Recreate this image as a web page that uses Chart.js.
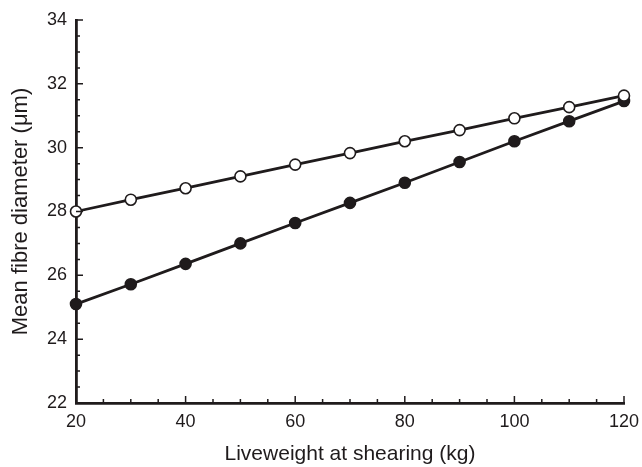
<!DOCTYPE html>
<html>
<head>
<meta charset="utf-8">
<script src="https://cdn.jsdelivr.net/npm/chart.js@4/dist/chart.umd.min.js"></script>
<style>
  html, body { margin: 0; padding: 0; background: #ffffff; }
  #wrap { width: 642px; height: 467px; }
</style>
</head>
<body>
<div id="wrap"><canvas id="c" width="642" height="467"></canvas></div>
<script>
// Data
const liveweight = [20, 30, 40, 50, 60, 70, 80, 90, 100, 110, 120];
const openSeries = [28.0, 28.37, 28.73, 29.1, 29.47, 29.83, 30.2, 30.55, 30.92, 31.27, 31.63];
const filledSeries = [25.1, 25.72, 26.36, 27.0, 27.64, 28.27, 28.9, 29.55, 30.2, 30.83, 31.46];
const xTitle = 'Liveweight at shearing (kg)';
const yTitle = 'Mean fibre diameter (\u03bcm)';
const xRange = [20, 120];
const yRange = [22, 34];

const ink = '#1f1b1c';
const fontFamily = '"Liberation Sans", Arial, Helvetica, sans-serif';

const toXY = (ys) => liveweight.map((x, i) => ({ x: x, y: ys[i] }));

// Inward ticks drawn through the chart's own scales
const inwardTicks = {
  id: 'inwardTicks',
  afterDatasetsDraw(chart) {
    const ctx = chart.ctx;
    const xs = chart.scales.x, ys = chart.scales.y;
    const area = chart.chartArea;
    ctx.save();
    ctx.strokeStyle = ink;
    ctx.lineWidth = 1.5;
    ctx.beginPath();
    for (let v = xRange[0] + 5; v < xRange[1] + 0.01; v += 5) {
      const px = xs.getPixelForValue(v);
      const len = (v % 20 === 0) ? 7 : 4;
      ctx.moveTo(px, area.bottom);
      ctx.lineTo(px, area.bottom - len);
    }
    for (let v = yRange[0] + 0.5; v < yRange[1] + 0.01; v += 0.5) {
      const py = ys.getPixelForValue(v);
      const len = (Math.abs(v % 2) < 0.01) ? 7 : 4;
      ctx.moveTo(area.left, py);
      ctx.lineTo(area.left + len, py);
    }
    ctx.stroke();
    ctx.restore();
  }
};

new Chart(document.getElementById('c'), {
  type: 'line',
  data: {
    datasets: [
      {
        data: toXY(openSeries),
        borderColor: ink,
        borderWidth: 2.8,
        pointRadius: 5.5,
        pointBorderWidth: 1.6,
        pointBackgroundColor: '#ffffff',
        pointBorderColor: ink,
        tension: 0,
        clip: false
      },
      {
        data: toXY(filledSeries),
        borderColor: ink,
        borderWidth: 2.8,
        pointRadius: 5.5,
        pointBorderWidth: 1.6,
        pointBackgroundColor: ink,
        pointBorderColor: ink,
        tension: 0,
        clip: false
      }
    ]
  },
  options: {
    responsive: false,
    animation: false,
    devicePixelRatio: 1,
    layout: { padding: { left: 0, right: 18, top: 20, bottom: 0 } },
    plugins: { legend: { display: false }, tooltip: { enabled: false } },
    scales: {
      x: {
        type: 'linear',
        min: xRange[0], max: xRange[1],
        afterFit: (s) => { s.height = 64; s.paddingRight = 0; s.paddingLeft = 0; },
        grid: { display: false, drawTicks: false },
        border: { display: true, color: ink, width: 2.8 },
        ticks: { stepSize: 20, color: ink, padding: 8, font: { family: fontFamily, size: 18 } },
        title: { display: true, text: xTitle, color: ink, padding: { top: 6, bottom: 0 }, font: { family: fontFamily, size: 21 } }
      },
      y: {
        type: 'linear',
        min: yRange[0], max: yRange[1],
        afterFit: (s) => { s.width = 76; s.paddingTop = 0; s.paddingBottom = 0; },
        grid: { display: false, drawTicks: false },
        border: { display: true, color: ink, width: 2.8 },
        ticks: { stepSize: 2, color: ink, padding: 9, font: { family: fontFamily, size: 18 } },
        title: { display: true, text: yTitle, color: ink, padding: { top: 8, bottom: 4 }, font: { family: fontFamily, size: 22 } }
      }
    }
  },
  plugins: [inwardTicks]
});
</script>
</body>
</html>
